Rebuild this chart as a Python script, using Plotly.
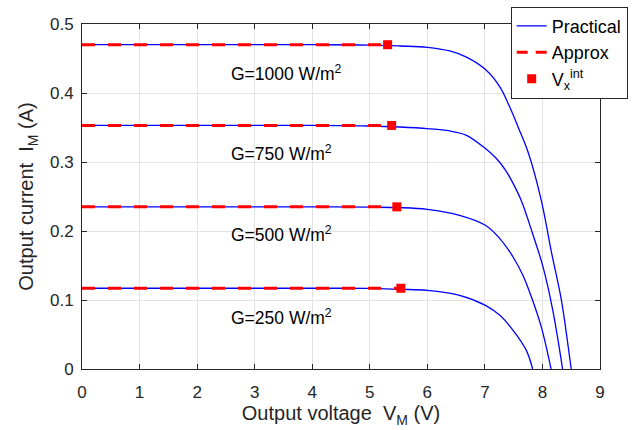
import plotly.graph_objects as go

# ---- data ----
v1 = [0, 1, 2, 3, 4, 5, 5.52, 6.0, 6.39, 6.68, 7.01, 7.26, 7.43, 7.60, 7.76, 7.98, 8.15, 8.33, 8.44, 8.50]
i1 = [0.47, 0.47, 0.47, 0.47, 0.47, 0.4695, 0.4681, 0.4662, 0.4609, 0.452, 0.434, 0.409, 0.380, 0.346, 0.312, 0.2445, 0.172, 0.0996, 0.037, 0.0]

v2 = [0, 1, 2, 3, 4, 5, 5.52, 6.0, 6.39, 6.68, 7.01, 7.20, 7.36, 7.49, 7.63, 7.83, 8.01, 8.18, 8.35]
i2 = [0.353, 0.353, 0.353, 0.353, 0.353, 0.3522, 0.3507, 0.3484, 0.345, 0.3387, 0.3194, 0.305, 0.288, 0.269, 0.2445, 0.196, 0.148, 0.085, 0.0]

v3 = [0, 1, 2, 3, 4, 5, 5.52, 6.0, 6.56, 7.01, 7.26, 7.49, 7.66, 7.81, 7.98, 8.15]
i3 = [0.235, 0.235, 0.235, 0.235, 0.235, 0.2345, 0.2339, 0.2314, 0.2228, 0.2083, 0.189, 0.1623, 0.1358, 0.104, 0.061, 0.0]

v4 = [0, 1, 2, 3, 4, 5, 5.52, 6.0, 6.56, 7.01, 7.26, 7.49, 7.72, 7.83]
i4 = [0.117, 0.117, 0.117, 0.117, 0.117, 0.1168, 0.1155, 0.114, 0.1068, 0.0923, 0.0778, 0.0561, 0.027, 0.0]

practical = [(v1, i1), (v2, i2), (v3, i3), (v4, i4)]

isc = [0.47, 0.353, 0.235, 0.117]
vx_int = [5.31, 5.38, 5.47, 5.54]

labels = ["G=1000 W/m<sup>2</sup>", "G=750 W/m<sup>2</sup>",
          "G=500 W/m<sup>2</sup>", "G=250 W/m<sup>2</sup>"]
label_v = [2.56, 2.56, 2.56, 2.56]
label_i = [0.4293, 0.3126, 0.1952, 0.0749]

x_ticks = [0, 1, 2, 3, 4, 5, 6, 7, 8, 9]
y_ticks = [0, 0.1, 0.2, 0.3, 0.4, 0.5]

FONT = "Liberation Sans, Arial, Helvetica, sans-serif"
AX = "#262626"

fig = go.Figure()

for k, (vv, ii) in enumerate(practical):
    fig.add_trace(go.Scatter(
        x=vv, y=ii, mode="lines", name="Practical",
        line=dict(color="#0000ff", width=1.3, shape="spline", smoothing=1.0),
        legendgroup="p", showlegend=(k == 0)))

for k in range(4):
    fig.add_trace(go.Scatter(
        x=[0, vx_int[k]], y=[isc[k], isc[k]], mode="lines", name="Approx",
        line=dict(color="#ff0000", width=3, dash="13px,13px"),
        legendgroup="a", showlegend=False))

# legend-only entry so the key shows two dashes like the reference
fig.add_trace(go.Scatter(
    x=[None], y=[None], mode="lines", name="Approx",
    line=dict(color="#ff0000", width=3, dash="11px,8px"),
    legendgroup="a", showlegend=True))

fig.add_trace(go.Scatter(
    x=vx_int, y=isc, mode="markers", name="V<sub>x</sub><sup>int</sup>",
    marker=dict(symbol="square", size=9, color="#ff0000")))

for t, xv, yv in zip(labels, label_v, label_i):
    fig.add_annotation(x=xv, y=yv, text=t, showarrow=False, xanchor="left",
                       yanchor="middle", font=dict(family=FONT, size=17.5, color="black"))

axis_common = dict(
    showline=True, linecolor=AX, linewidth=1, mirror="ticks",
    ticks="inside", ticklen=5, tickcolor=AX, tickwidth=1,
    showgrid=True, gridcolor="#e3e3e3", gridwidth=1, zeroline=False,
    tickfont=dict(family=FONT, size=17, color=AX),
)

fig.update_xaxes(range=[0, 9], tickvals=x_ticks, ticklabelstandoff=8,
                 title=dict(text="Output voltage  V<sub>M</sub> (V)",
                            font=dict(family=FONT, size=20, color=AX), standoff=4),
                 **axis_common)
fig.update_yaxes(range=[0, 0.5], tickvals=y_ticks, ticklabelstandoff=4,
                 title=dict(text="Output current  I<sub>M</sub> (A)",
                            font=dict(family=FONT, size=20, color=AX), standoff=10),
                 **axis_common)

fig.update_layout(
    width=638, height=430,
    margin=dict(l=82, r=38, t=24, b=61, autoexpand=False),
    plot_bgcolor="white", paper_bgcolor="white",
    font=dict(family=FONT, color=AX),
    legend=dict(x=0.8276, y=1.05, xanchor="left", yanchor="top",
                bordercolor=AX, borderwidth=1, bgcolor="white",
                font=dict(family=FONT, size=18, color="black"),
                tracegroupgap=0, itemwidth=30),
)

fig.write_html("out.html", config={"displayModeBar": False},
               post_script="document.body.style.margin='0';document.body.style.overflow='hidden';")
